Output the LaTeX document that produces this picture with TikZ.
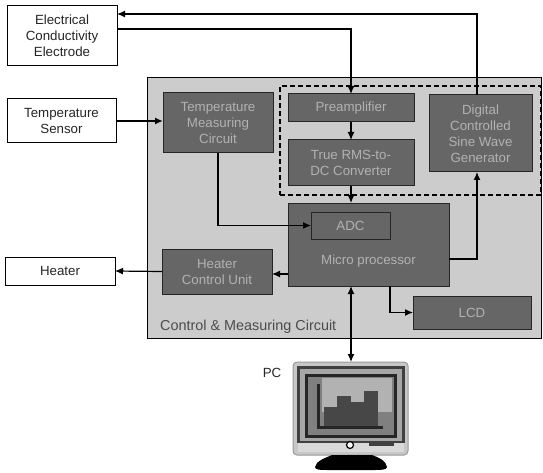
\documentclass[tikz,border=0pt]{standalone}
\usepackage{fontspec}
\setmainfont{Liberation Sans}
\usetikzlibrary{arrows.meta,calc,patterns}
\tikzset{
  plain/.style={draw=black,line width=1pt,fill=white,align=center,inner sep=0pt,outer sep=0pt,font=\fontsize{13.3}{16}\selectfont,text=black!85},
  dark/.style={draw=black!85,line width=1pt,fill=black!60,align=center,inner sep=0pt,outer sep=0pt,font=\fontsize{13.3}{16}\selectfont,text=black!30},
  panel/.style={draw=black,line width=1pt,fill=black!20,inner sep=0pt,outer sep=0pt},
  dashbox/.style={draw=black,line width=1.3pt,dash pattern=on 5pt off 3pt,inner sep=0pt,outer sep=0pt},
  conn/.style={draw=black,line width=1.2pt},
  thick conn/.style={draw=black,line width=1.6pt},
  tip/.style={-{Latex[length=8pt,width=7pt]}},
  tips/.style={{Latex[length=8pt,width=7pt]}-{Latex[length=8pt,width=7pt]}},
  lbl/.style={inner sep=0pt,font=\fontsize{14.4}{16}\selectfont,text=black!70},
  pclabel/.style={inner sep=0pt,font=\fontsize{13.3}{16}\selectfont,text=black!85},
}
\begin{document}
\begin{tikzpicture}[x=1pt,y=-1pt]
\useasboundingbox (0,0) rectangle (543,473);
% panel and dashed group
\node[panel,minimum width=394pt,minimum height=260pt] (ctrl) at (344,208) {};
\node[dashbox,minimum width=261pt,minimum height=109pt] (group) at (410.5,140.5) {};
% outer boxes
\node[plain,minimum width=110pt,minimum height=60pt] (elec) at (62,36) {Electrical\\Conductivity\\Electrode};
\node[plain,minimum width=109pt,minimum height=44pt] (tsens) at (61.5,121) {Temperature\\Sensor};
\node[plain,minimum width=110pt,minimum height=28pt] (heater) at (60,271) {Heater};
% dark boxes
\node[dark,minimum width=110pt,minimum height=60pt] (tmc) at (218,123) {Temperature\\Measuring\\Circuit};
\node[dark,minimum width=126pt,minimum height=28pt] (pre) at (351,108) {Preamplifier};
\node[dark,minimum width=126pt,minimum height=46pt] (rms) at (351,163) {True RMS-to-\\DC Converter};
\node[dark,minimum width=103pt,minimum height=77pt] (dds) at (480.5,133.5) {Digital\\Controlled\\Sine Wave\\Generator};
\node[dark,minimum width=161pt,minimum height=83pt] (mcu) at (368.5,244.5) {};
\node[dark,draw=none,fill=none] (mcutext) at (368.5,261) {Micro processor};
\node[dark,fill=none,minimum width=79pt,minimum height=27pt] (adc) at (350.5,225.5) {ADC};
\node[dark,minimum width=110pt,minimum height=45pt] (hcu) at (217,271.5) {Heater\\Control Unit};
\node[dark,minimum width=118pt,minimum height=33pt] (lcd) at (472,312.5) {LCD};
\node[lbl,anchor=west] (ctrllbl) at (160,327) {Control \& Measuring Circuit};
\node[pclabel] (pclbl) at (272,373) {PC};
% monitor
\node[draw=black!40,line width=1pt,fill=black!22,rounded corners=4pt,minimum width=115pt,minimum height=93pt,inner sep=0pt,outer sep=0pt] (pc) at (350.5,408.5) {};
\fill[black!75] (297,366) rectangle (405,443);
\fill[black!35] (300,369) rectangle (402,441);
\fill[black!85] (305,374) rectangle (397,438);
\fill[black!50] (308,377) rectangle (394,435);
\fill[black!30] (322,378) rectangle (392,412);
\fill[black!85] (317,384) rectangle (320,428);
\fill[black!72] (324,407) rectangle (337,428);
\fill[black!72] (337,396) rectangle (351,428);
\fill[black!72] (351,402) rectangle (364,428);
\fill[black!72] (364,391) rectangle (378,428);
\fill[black!85] (317,426) rectangle (383,429);
\fill[black!15] (298,443) rectangle (404,452);
\fill[white] (350,445) circle (3.5pt);
\draw[black,line width=1.2pt] (350,445) circle (3.5pt);
\fill[black!75] (369,443) rectangle (394,446);
\fill[black] (315,467) .. controls (316,461) and (325,458) .. (332,455) -- (372,455) .. controls (380,458) and (386,461) .. (387,467) .. controls (387,470) and (380,470) .. (375,470) -- (327,470) .. controls (320,470) and (315,470) .. (315,467) -- cycle;
% connectors
\coordinate (digtop) at ($(dds.north)+(-3.5,0)$);
\coordinate (toprun) at (elec.east |- 0,14);
\draw[conn,tip] (digtop) |- (toprun);
\coordinate (elecout) at (elec.east |- 0,29);
\draw[conn,tip] (elecout) -| (pre.north);
\draw[thick conn,tip] (tsens.east) -- (tmc.west |- tsens.east);
\draw[conn,tip] (tmc.south) |- (adc.west);
\draw[conn,tip] (pre.south) -- (rms.north);
\draw[conn,tip] (rms.south) -- (rms.south |- mcu.north);
\coordinate (mcuright) at (mcu.east |- 0,259);
\draw[conn,tip] (mcuright) -| (digtop |- dds.south);
\coordinate (mculeft) at (mcu.west |- 0,274);
\draw[conn,tip] (mculeft) -- (hcu.east |- mculeft);
\draw[conn,tip] (hcu.west) -- (heater.east);
\coordinate (mcuout) at (mcu.south -| adc.east);
\draw[conn,tip] (mcuout) |- (lcd.west);
\draw[conn,tips] (rms.south |- mcu.south) -- (rms.south |- pc.north);
\end{tikzpicture}
\end{document}
